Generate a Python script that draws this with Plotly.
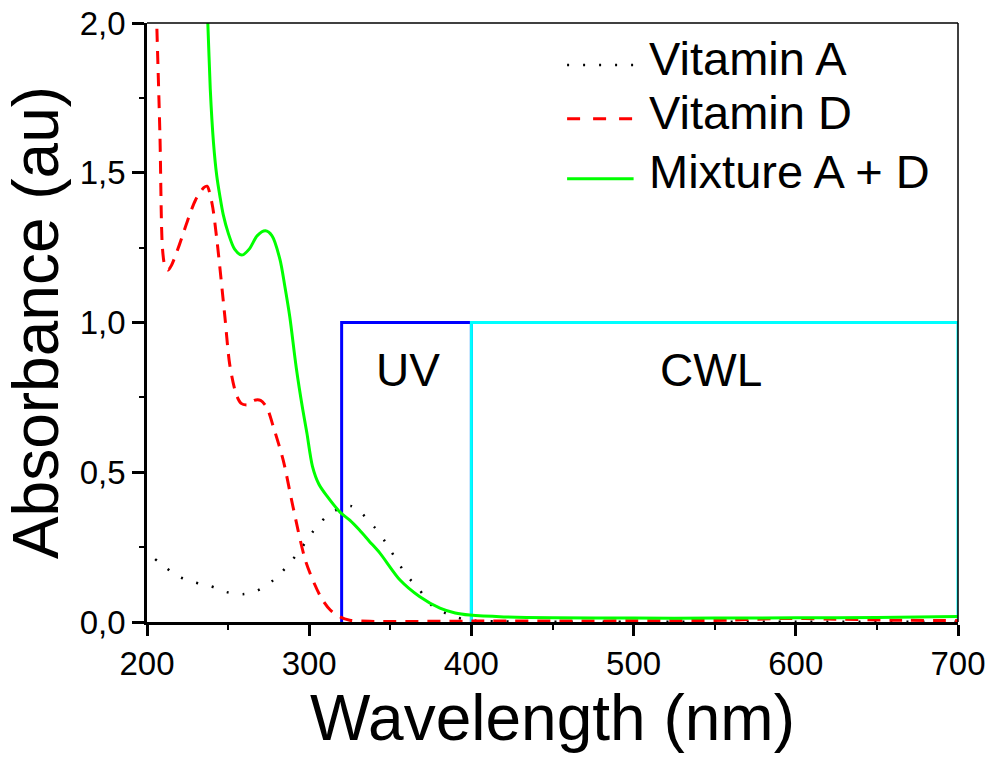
import plotly.graph_objects as go

# Absorption spectra (wavelength in nm, absorbance in a.u.)
wl_vit_a = [205, 209, 219, 229, 239, 249, 259, 268, 278, 287, 295, 302, 311, 321, 326,
            331, 340, 347, 353, 360, 368, 376, 387, 397, 420, 500, 600, 700]
abs_vit_a = [0.21, 0.193, 0.153, 0.133, 0.12, 0.10, 0.093, 0.105, 0.14, 0.19, 0.245, 0.30,
             0.354, 0.385, 0.387, 0.37, 0.318, 0.267, 0.214, 0.157, 0.107, 0.053, 0.023,
             0.007, 0.002, 0.001, 0.001, 0.001]

wl_vit_d = [205, 206, 208, 209.5, 211, 213, 215, 220, 225, 230, 235, 237, 240, 243, 248,
            251, 255, 258, 262, 266, 270, 274, 278, 284, 290, 298, 307, 313, 319, 325,
            340, 400, 500, 560, 590, 620, 660, 700]
abs_vit_d = [2.2, 2.0, 1.62, 1.25, 1.19, 1.175, 1.19, 1.26, 1.34, 1.41, 1.45, 1.455,
             1.40, 1.28, 1.02, 0.86, 0.76, 0.73, 0.725, 0.74, 0.74, 0.715, 0.65, 0.54,
             0.385, 0.20, 0.085, 0.04, 0.017, 0.006, 0.002, 0.003, 0.004, 0.006, 0.012,
             0.01, 0.006, 0.005]

wl_mix = [236, 237.5, 239, 241, 243, 245, 247, 250, 254, 258.5, 263, 268, 273, 277, 282,
          285, 288, 292, 296, 298.6, 302, 306, 311, 319, 325, 331, 337, 343.6, 356, 368,
          380.6, 390, 399, 420, 450, 500, 550, 600, 650, 700]
abs_mix = [2.15, 2.0, 1.78, 1.6, 1.49, 1.42, 1.36, 1.30, 1.245, 1.225, 1.245, 1.29, 1.306,
           1.29, 1.21, 1.12, 1.02, 0.85, 0.71, 0.63, 0.52, 0.46, 0.42, 0.367, 0.34, 0.307,
           0.27, 0.23, 0.14, 0.085, 0.046, 0.03, 0.023, 0.017, 0.014, 0.013, 0.013, 0.014,
           0.015, 0.018]

# Illumination bands
uv_x = [320, 320, 400, 400]
uv_y = [0, 1, 1, 0]
cwl_x = [400, 400, 700, 700]
cwl_y = [0, 1, 1, 0]

band_labels = ["UV", "CWL"]
band_label_x = [361, 548]
band_label_y = [0.84, 0.84]

series_names = ["Vitamin A", "Vitamin D", "Mixture A + D"]
series_colors = ["black", "#ff0000", "#00ff00"]
series_dash = ["2px,14px", "13px,9px", "solid"]
series_width = [2.5, 3, 3]

FONT = "Liberation Sans, Arial, sans-serif"

fig = go.Figure()

fig.add_trace(go.Scatter(x=uv_x, y=uv_y, mode="lines", showlegend=False,
                         line=dict(color="#0000ff", width=3), cliponaxis=False))
fig.add_trace(go.Scatter(x=cwl_x, y=cwl_y, mode="lines", showlegend=False,
                         line=dict(color="#00ffff", width=3), cliponaxis=False))

for wl, ab, name, col, dash, w in zip([wl_vit_a, wl_vit_d, wl_mix],
                                      [abs_vit_a, abs_vit_d, abs_mix],
                                      series_names, series_colors, series_dash,
                                      series_width):
    fig.add_trace(go.Scatter(x=wl, y=ab, mode="lines", name=name, showlegend=False,
                             line=dict(color=col, width=w, dash=dash, shape="spline",
                                       smoothing=0.8)))

for txt, tx, ty in zip(band_labels, band_label_x, band_label_y):
    fig.add_annotation(x=tx, y=ty, text=txt, showarrow=False,
                       font=dict(family=FONT, size=46, color="black"))

# key in the upper right corner (paper coordinates)
key_x0, key_x1, key_text_x = 0.518, 0.600, 0.617
key_line_y = [0.93, 0.84, 0.74]
key_text_y = [0.94, 0.85, 0.752]
key_dash = ["2px,14px", "13px,13px", "solid"]
for name, col, dash, w, ly, ty in zip(series_names, series_colors, key_dash,
                                      series_width, key_line_y, key_text_y):
    fig.add_shape(type="line", xref="paper", yref="paper", x0=key_x0, x1=key_x1,
                  y0=ly, y1=ly, line=dict(color=col, width=w, dash=dash))
    fig.add_annotation(xref="paper", yref="paper", x=key_text_x, y=ty, text=name,
                       showarrow=False, xanchor="left", yanchor="middle",
                       font=dict(family=FONT, size=47, color="black"))

# thin top and right frame lines
fig.add_shape(type="line", xref="paper", yref="paper", x0=0, x1=1, y0=1, y1=1,
              line=dict(color="black", width=1.5))
fig.add_shape(type="line", xref="paper", yref="paper", x0=1, x1=1, y0=0, y1=1,
              line=dict(color="black", width=1.5))

fig.update_layout(
    width=992, height=758,
    margin=dict(l=147, r=34, t=23, b=136),
    paper_bgcolor="white", plot_bgcolor="white",
    separators=",.",
    showlegend=False,
    font=dict(family=FONT, color="black"),
    xaxis=dict(
        range=[200, 700], showgrid=False, zeroline=False, automargin=False,
        showline=True, linecolor="black", linewidth=2.5,
        ticks="outside", ticklen=11, tickwidth=2.5, tickcolor="black",
        tickvals=[200, 300, 400, 500, 600, 700],
        tickfont=dict(family=FONT, size=33),
        minor=dict(ticks="outside", ticklen=5, tickwidth=2, tickcolor="black",
                   tickvals=[250, 350, 450, 550, 650]),
        title=dict(text="Wavelength (nm)", font=dict(family=FONT, size=64), standoff=14),
    ),
    yaxis=dict(
        range=[0, 2], showgrid=False, zeroline=False, automargin=False,
        showline=True, linecolor="black", linewidth=2.5,
        ticks="outside", ticklen=12, tickwidth=2.5, tickcolor="black",
        tickvals=[0, 0.5, 1.0, 1.5, 2.0], tickformat=".1f",
        tickfont=dict(family=FONT, size=33),
        minor=dict(ticks="outside", ticklen=5, tickwidth=2, tickcolor="black",
                   tickvals=[0.25, 0.75, 1.25, 1.75]),
        title=dict(text="Absorbance (au)", font=dict(family=FONT, size=64), standoff=18),
    ),
)

fig.write_html("out.html")
